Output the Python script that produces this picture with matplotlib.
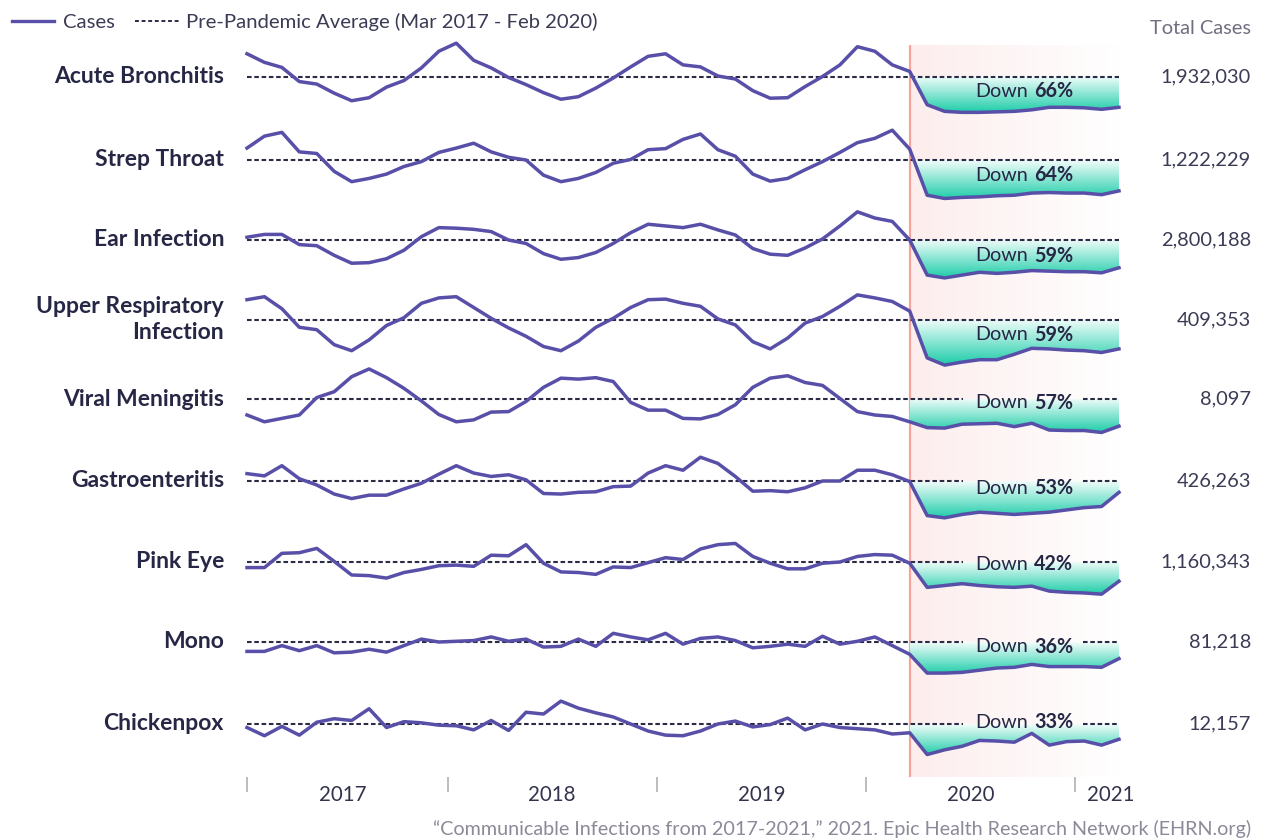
import numpy as np
import matplotlib
matplotlib.use("Agg")
import matplotlib.pyplot as plt
from matplotlib.colors import LinearSegmentedColormap
from matplotlib.lines import Line2D
from matplotlib.path import Path

plt.rcParams['font.family'] = ['Lato', 'DejaVu Sans']

# monthly cases as % of the pre-pandemic average, Jan 2017 .. Mar 2021
diseases = ["Acute Bronchitis", "Strep Throat", "Ear Infection",
            "Upper Respiratory\nInfection", "Viral Meningitis", "Gastroenteritis",
            "Pink Eye", "Mono", "Chickenpox"]

acute_bronchitis = [145, 128, 118, 90, 85, 67, 52, 58, 79, 92,
                    117, 150, 166, 132, 117, 98, 84, 68, 55, 60,
                    77, 97, 119, 140, 145, 123, 119, 101, 95, 72,
                    57, 58, 80, 100, 123, 159, 150, 123, 110, 44,
                    31, 29, 29, 30, 31, 34, 39, 39, 38, 35, 39]
strep_throat = [122, 144, 151, 115, 112, 79, 60, 66, 74, 88,
                97, 114, 122, 131, 115, 105, 100, 72, 60, 66,
                77, 94, 101, 119, 121, 138, 148, 119, 107, 74,
                61, 66, 82, 97, 114, 132, 140, 155, 120, 35,
                29, 31, 32, 34, 35, 39, 40, 39, 39, 36, 43]
ear_infection = [104, 109, 109, 91, 89, 72, 58, 59, 66, 81,
                 105, 121, 120, 118, 114, 99, 93, 75, 65, 68,
                 77, 93, 112, 127, 124, 121, 127, 117, 108, 84,
                 74, 72, 85, 101, 124, 149, 138, 132, 99, 37,
                 32, 37, 42, 40, 42, 45, 44, 43, 43, 41, 50]
upper_respiratory = [133, 138, 118, 87, 83, 58, 48, 66, 90, 103,
                     127, 136, 138, 120, 102, 86, 72, 55, 48, 64,
                     87, 102, 120, 133, 134, 127, 122, 101, 91, 63,
                     51, 69, 94, 105, 122, 141, 136, 130, 114, 36,
                     24, 29, 33, 33, 42, 52, 51, 49, 48, 45, 51]
viral_meningitis = [67, 53, 60, 67, 103, 115, 146, 162, 144, 122,
                    96, 68, 53, 57, 73, 74, 95, 124, 143, 141,
                    144, 136, 93, 77, 77, 60, 59, 68, 88, 124,
                    143, 148, 134, 128, 101, 74, 67, 64, 53, 41,
                    40, 48, 49, 50, 43, 50, 36, 35, 35, 31, 44]
gastroenteritis = [113, 109, 127, 104, 93, 77, 69, 75, 75, 86,
                   96, 112, 127, 114, 108, 111, 102, 78, 77, 80,
                   81, 90, 91, 114, 127, 119, 142, 131, 108, 82,
                   83, 81, 88, 100, 100, 119, 119, 111, 99, 39,
                   35, 41, 45, 43, 41, 43, 45, 49, 53, 55, 80]
pink_eye = [91, 91, 114, 115, 122, 101, 79, 78, 74, 83,
            88, 94, 95, 93, 111, 110, 128, 98, 84, 83,
            80, 92, 91, 99, 107, 104, 121, 128, 130, 109,
            98, 89, 89, 98, 100, 109, 112, 111, 98, 59,
            62, 65, 62, 60, 59, 61, 53, 51, 50, 48, 69]
mono = [87, 87, 95, 88, 95, 85, 86, 90, 86, 95,
        104, 100, 101, 102, 107, 101, 104, 93, 94, 104,
        94, 112, 107, 103, 112, 97, 105, 107, 102, 92,
        94, 97, 94, 108, 97, 101, 107, 95, 83, 57,
        57, 58, 61, 64, 65, 69, 66, 66, 66, 65, 77]
chickenpox = [94, 80, 96, 81, 103, 109, 106, 126, 94, 104,
              102, 98, 97, 90, 106, 89, 120, 117, 139, 127,
              119, 112, 100, 88, 81, 80, 88, 100, 105, 95,
              99, 110, 90, 100, 94, 92, 90, 83, 85, 48,
              56, 62, 72, 71, 69, 84, 64, 70, 71, 64, 74]

down_pct = [66, 64, 59, 59, 57, 53, 42, 36, 33]
total_cases = ["1,932,030", "1,222,229", "2,800,188", "409,353", "8,097",
               "426,263", "1,160,343", "81,218", "12,157"]
year_labels = ["2017", "2018", "2019", "2020", "2021"]

series = [acute_bronchitis, strep_throat, ear_infection, upper_respiratory,
          viral_meningitis, gastroenteritis, pink_eye, mono, chickenpox]

# layout (pixels from top of a 1263x840 canvas)
W, H = 1263, 840
row_base = [76.5, 160, 239.5, 319.5, 399, 481, 562, 642, 724]
px_per_pct = [0.505, 0.542, 0.565, 0.60, 0.485, 0.567, 0.619, 0.723, 0.587]
label_off = [14.5, 15, 16, 15.5, 4, 7, 2, 5, -2]
x_left, x_right = 247, 1119
band = 45

purple = "#5850a8"
navy = "#262645"
teal_cmap = LinearSegmentedColormap.from_list("teal", ["#f3fdfb", "#18cca7"])
pink_cmap = LinearSegmentedColormap.from_list("pink", ["#fdeded", "#ffffff"])

x = np.arange(len(acute_bronchitis)) + 0.5
start = 38.5  # mid March 2020


def fpos(px, py):
    return px / W, 1 - py / H


fig = plt.figure(figsize=(W / 100, H / 100), dpi=100)

# background panel: pink pandemic shading + year axis
top_px, bot_px = 45, 777
bg = fig.add_axes([x_left / W, 1 - bot_px / H, (x_right - x_left) / W, (bot_px - top_px) / H])
bg.set_xlim(0.5, 50.5)
bg.set_ylim(0, 1)
bg.imshow(np.linspace(0, 1, 256).reshape(1, -1), cmap=pink_cmap, aspect="auto",
          extent=[start, 50.5, 0, 1], zorder=0)
bg.axvline(start, color="#f4a49b", lw=1.6, zorder=1)
for s in bg.spines.values():
    s.set_visible(False)
bg.set_yticks([])
bg.set_xticks([0.5, 12, 24, 36, 48])
bg.set_xticklabels([])
bg.set_xticks([6, 18, 30, 42, 50], minor=True)
bg.set_xticklabels(year_labels, minor=True)
bg.tick_params(axis="x", which="major", length=11, width=1.3, color="#b5b5bd", direction="out")
bg.tick_params(axis="x", which="minor", length=0, pad=6, labelsize=14.8, labelcolor="#33334d")

for r, vals in enumerate(series):
    vals = np.array(vals, dtype=float)
    s = px_per_pct[r]
    yb = row_base[r]
    ax = fig.add_axes([x_left / W, 1 - (yb + band) / H, (x_right - x_left) / W, 2 * band / H])
    ax.patch.set_alpha(0)
    ax.axis("off")
    ax.set_xlim(0.5, 50.5)
    lo, hi = 100 - band / s, 100 + band / s

    # teal fill between baseline and the post-March 2020 drop
    post = x >= start
    fb = ax.fill_between(x[post], vals[post], 100, where=vals[post] <= 100,
                         interpolate=True, color="none", lw=0)
    clip = Path.make_compound_path(*fb.get_paths())
    grad = ax.imshow(np.linspace(1, 0, 256).reshape(-1, 1), cmap=teal_cmap, aspect="auto",
                     origin="lower", extent=[start, 50.5, vals[post].min() - 2, 100], zorder=1)
    grad.set_clip_path(clip, ax.transData)

    # baseline (pre-pandemic average), broken behind the label when it sits on it
    if label_off[r] < 10:
        segs = [(0.5, 41.55), (48.43, 50.5)]
    else:
        segs = [(0.5, 50.5)]
    for a, b in segs:
        ax.plot([a, b], [100, 100], color="#2b2b45", lw=1.5, ls=(0, (2.2, 1.3)),
                zorder=2, clip_on=False)

    ax.plot(x, vals, color=purple, lw=2.5, zorder=3, clip_on=False, solid_joinstyle="round")
    ax.set_ylim(lo, hi)

    dy = -label_off[r] * 0.72
    ax.annotate("Down", (45.45, 100), xytext=(-2.2, dy), textcoords="offset points",
                ha="right", va="center", fontsize=14.2, color=navy, zorder=4)
    ax.annotate(f"{down_pct[r]}%", (45.45, 100), xytext=(2.2, dy), textcoords="offset points",
                ha="left", va="center", fontsize=14.2, fontweight="bold", color=navy, zorder=4)

    fig.text(*fpos(224, yb), diseases[r], ha="right", va="center", fontsize=16.5,
             fontweight="bold", color=navy, linespacing=1.32)
    fig.text(*fpos(1251, yb), total_cases[r], ha="right", va="center", fontsize=14.4,
             color="#3b3b55")

# legend
fig.add_artist(Line2D([12 / W, 54 / W], [1 - 21 / H] * 2, color=purple, lw=2.4))
fig.text(*fpos(63, 22), "Cases", ha="left", va="center", fontsize=14.6, color="#3b3b55")
fig.add_artist(Line2D([135 / W, 179 / W], [1 - 21 / H] * 2, color="#2b2b45", lw=1.4,
                      ls=(0, (2, 1.4))))
fig.text(*fpos(186, 22), "Pre-Pandemic Average (Mar 2017 - Feb 2020)", ha="left",
         va="center", fontsize=14.6, color="#3b3b55")

fig.text(*fpos(1251, 28), "Total Cases", ha="right", va="center", fontsize=14.4,
         color="#6e6e80")
fig.text(*fpos(1251, 829),
         "\u201cCommunicable Infections from 2017-2021,\u201d 2021. Epic Health Research Network (EHRN.org)",
         ha="right", va="center", fontsize=14.2, color="#8a8a99")

fig.savefig("out.png", dpi=100, facecolor="white")
